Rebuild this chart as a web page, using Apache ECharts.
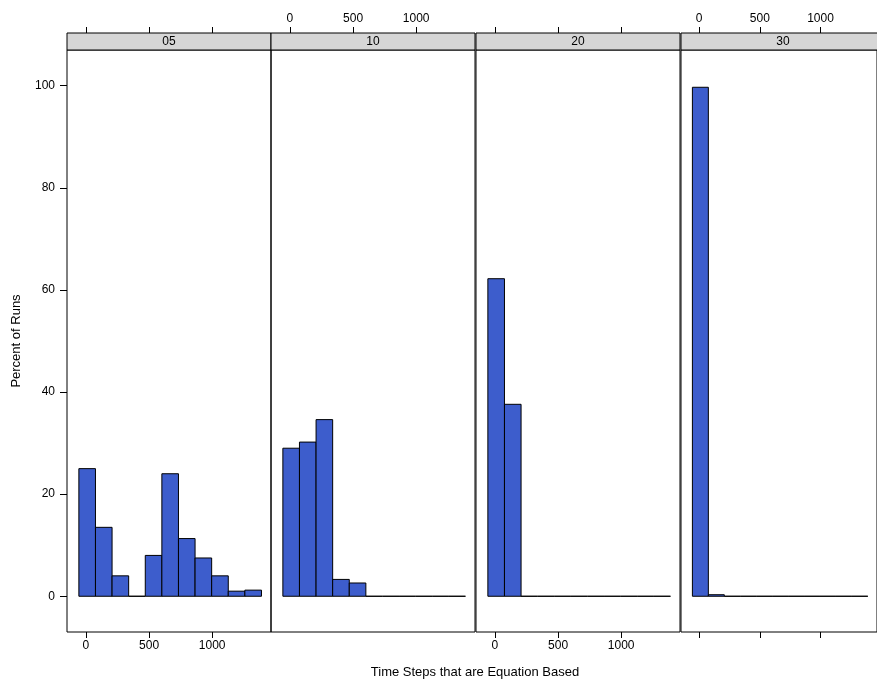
<!DOCTYPE html>
<html>
<head>
<meta charset="utf-8">
<script src="https://cdn.jsdelivr.net/npm/echarts@6/dist/echarts.min.js"></script>
<style>html,body{margin:0;padding:0;background:#fff}#main{width:877px;height:682px}</style>
</head>
<body>
<div id="main"></div>
<script>
var panels = ['05', '10', '20', '30'];
var binStart = -56;
var binWidth = 131.5;
var pct05 = [25, 13.5, 4, 0, 8, 24, 11.3, 7.5, 4, 1, 1.2];
var pct10 = [29, 30.2, 34.6, 3.3, 2.6, 0, 0, 0, 0, 0, 0];
var pct20 = [62.2, 37.6, 0, 0, 0, 0, 0, 0, 0, 0, 0];
var pct30 = [99.7, 0.3, 0, 0, 0, 0, 0, 0, 0, 0, 0];
var allPct = [pct05, pct10, pct20, pct30];
var xTicks = [0, 500, 1000];
var yTicks = [0, 20, 40, 60, 80, 100];

var myChart = echarts.init(document.getElementById('main'));
var font = 'Liberation Sans';
var lefts = [67, 271, 476, 681];
var grids = [], xAxes = [], yAxes = [], series = [], graphics = [];

panels.forEach(function (p, i) {
  grids.push({ left: lefts[i], top: 50, width: 204, height: 582, show: true, borderColor: '#000', borderWidth: 1, backgroundColor: 'transparent' });
  var bottomLabels = (i === 0 || i === 2);
  [['bottom', bottomLabels, i !== 1, 0], ['top', !bottomLabels, true, 17]].forEach(function (s) {
    xAxes.push({
      type: 'value', gridIndex: i, position: s[0], offset: s[3], min: -150, max: 1466,
      axisLine: { show: false, onZero: false }, splitLine: { show: false },
      axisTick: { show: s[2], length: 6, inside: false, customValues: xTicks, lineStyle: { color: '#000' } },
      axisLabel: { show: s[1], customValues: xTicks, formatter: function (v) { return String(v); }, color: '#000', fontFamily: font, fontSize: 12, margin: 8 }
    });
  });
  yAxes.push({
    type: 'value', gridIndex: i, min: -7, max: 107,
    axisLine: { show: false, onZero: false }, splitLine: { show: false },
    axisTick: { show: i === 0, length: 7, customValues: yTicks, lineStyle: { color: '#000' } },
    axisLabel: { show: i === 0, customValues: yTicks, color: '#000', fontFamily: font, fontSize: 12, margin: 12 }
  });
  var data = allPct[i].map(function (v, b) {
    return [binStart + b * binWidth, binStart + (b + 1) * binWidth, v];
  });
  series.push({
    type: 'custom', xAxisIndex: i * 2, yAxisIndex: i, data: data,
    renderItem: function (params, api) {
      var p0 = api.coord([api.value(0), 0]);
      var p1 = api.coord([api.value(1), api.value(2)]);
      return {
        type: 'rect',
        shape: { x: p0[0], y: p1[1], width: p1[0] - p0[0], height: p0[1] - p1[1] },
        style: { fill: '#3d5dcc', stroke: '#000', lineWidth: 1 }
      };
    }
  });
  graphics.push({
    type: 'rect', shape: { x: lefts[i], y: 33, width: 204, height: 17 },
    style: { fill: '#d6d6d6', stroke: '#000', lineWidth: 1 }
  });
  graphics.push({
    type: 'text', x: lefts[i] + 102, y: 41.5,
    style: { text: p, fill: '#000', font: '12px "Liberation Sans"', align: 'center', verticalAlign: 'middle' }
  });
});

graphics.push({
  type: 'text', x: 475, y: 672,
  style: { text: 'Time Steps that are Equation Based', fill: '#000', font: '13px "Liberation Sans"', align: 'center', verticalAlign: 'middle' }
});
graphics.push({
  type: 'text', x: 16, y: 341, rotation: Math.PI / 2,
  style: { text: 'Percent of Runs', fill: '#000', font: '13px "Liberation Sans"', align: 'center', verticalAlign: 'middle' }
});

myChart.setOption({
  animation: false,
  grid: grids, xAxis: xAxes, yAxis: yAxes, series: series, graphic: graphics
});
</script>
</body>
</html>
